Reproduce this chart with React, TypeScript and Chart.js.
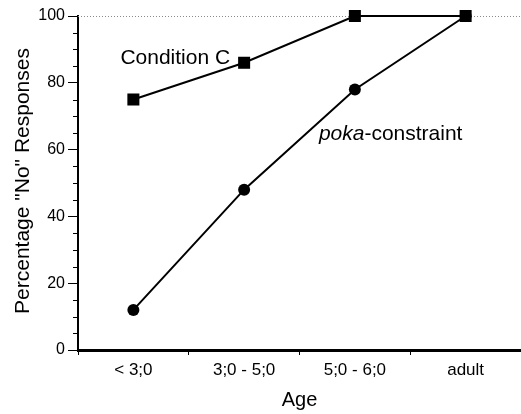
import React, { useEffect, useRef } from "react";
import { Chart, registerables } from "chart.js";

Chart.register(...registerables);

const ageGroups = ["< 3;0", "3;0 - 5;0", "5;0 - 6;0", "adult"];
const conditionC = [75, 86, 100, 100];
const pokaConstraint = [12, 48, 78, 100];
const yTickValues = [0, 20, 40, 60, 80, 100];
const minorTickValues = [5, 10, 15, 25, 30, 35, 45, 50, 55, 65, 70, 75, 85, 90, 95];

const FONT = '"Liberation Sans", Arial, Helvetica, sans-serif';

const decorPlugin = {
  id: "decor",
  beforeDatasetsDraw(chart: any) {
    const { ctx, chartArea } = chart;
    const y = chart.scales.y;
    ctx.save();
    // dotted reference line at 100
    ctx.strokeStyle = "#8a8a8a";
    ctx.lineWidth = 1;
    ctx.setLineDash([1, 2]);
    const py = Math.round(y.getPixelForValue(100)) + 0.5;
    ctx.beginPath();
    ctx.moveTo(chartArea.left, py);
    ctx.lineTo(chartArea.right, py);
    ctx.stroke();
    ctx.setLineDash([]);
    // minor ticks on y axis
    ctx.strokeStyle = "#000";
    ctx.lineWidth = 1;
    for (const v of minorTickValues) {
      const p = Math.round(y.getPixelForValue(v)) + 0.5;
      ctx.beginPath();
      ctx.moveTo(chartArea.left - 5, p);
      ctx.lineTo(chartArea.left, p);
      ctx.stroke();
    }
    ctx.restore();
  },
  afterDraw(chart: any) {
    const { ctx, chartArea } = chart;
    const x = chart.scales.x;
    const y = chart.scales.y;
    ctx.save();
    ctx.fillStyle = "#000";
    // Condition C label
    ctx.font = `21px ${FONT}`;
    ctx.textAlign = "right";
    ctx.textBaseline = "alphabetic";
    ctx.fillText("Condition C", x.getPixelForValue(1) - 14, y.getPixelForValue(85.5));
    // poka-constraint label
    ctx.textAlign = "left";
    let lx = x.getPixelForValue(2) - 36;
    const ly = y.getPixelForValue(63);
    ctx.font = `italic 21px ${FONT}`;
    ctx.fillText("poka", lx, ly);
    lx += ctx.measureText("poka").width;
    ctx.font = `21px ${FONT}`;
    ctx.fillText("-constraint", lx, ly);
    // x axis title
    ctx.textAlign = "center";
    ctx.font = `20px ${FONT}`;
    ctx.fillText("Age", (chartArea.left + chartArea.right) / 2, 406);
    // y axis title
    ctx.translate(29, (chartArea.top + chartArea.bottom) / 2 - 2);
    ctx.rotate(-Math.PI / 2);
    ctx.textAlign = "center";
    ctx.textBaseline = "alphabetic";
    ctx.font = `21px ${FONT}`;
    ctx.fillText('Percentage "No" Responses', 0, 0);
    ctx.restore();
  },
};

export default function App() {
  const ref = useRef<HTMLCanvasElement | null>(null);
  useEffect(() => {
    document.body.style.margin = "0";
    const canvas = ref.current;
    if (!canvas) return;
    const chart = new Chart(canvas, {
      type: "line",
      data: {
        labels: ageGroups,
        datasets: [
          {
            label: "Condition C",
            data: conditionC,
            borderColor: "#000",
            backgroundColor: "#000",
            borderWidth: 2,
            pointStyle: "rect",
            pointRadius: 8.5,
            pointBorderWidth: 0,
            pointBackgroundColor: "#000",
            clip: false,
          } as any,
          {
            label: "poka-constraint",
            data: pokaConstraint,
            borderColor: "#000",
            backgroundColor: "#000",
            borderWidth: 2,
            pointStyle: "circle",
            pointRadius: 6,
            pointBorderWidth: 0,
            pointBackgroundColor: "#000",
            clip: false,
          } as any,
        ],
      },
      options: {
        animation: false,
        responsive: false,
        devicePixelRatio: 1,
        layout: { autoPadding: false, padding: { top: 16, right: 0, left: 0, bottom: 0 } },
        plugins: {
          legend: { display: false },
          tooltip: { enabled: false },
        },
        scales: {
          x: {
            type: "category",
            offset: true,
            grid: {
              offset: true,
              drawOnChartArea: false,
              drawTicks: true,
              tickLength: 5,
              tickColor: "#000",
              lineWidth: 1,
            },
            border: { display: true, color: "#000", width: 3 },
            ticks: {
              color: "#000",
              font: { family: FONT, size: 17 },
              padding: 5,
              maxRotation: 0,
            },
            afterFit(scale: any) {
              scale.height = 64;
              scale.paddingLeft = 0;
              scale.paddingRight = 0;
            },
          },
          y: {
            min: 0,
            max: 100,
            afterBuildTicks(scale: any) {
              scale.ticks = yTickValues.map((v) => ({ value: v }));
            },
            grid: {
              drawOnChartArea: false,
              drawTicks: true,
              tickLength: 10,
              tickColor: "#000",
              lineWidth: 1,
            },
            border: { display: true, color: "#000", width: 2 },
            ticks: {
              color: "#000",
              font: { family: FONT, size: 16 },
              padding: 3,
            },
            afterFit(scale: any) {
              scale.width = 78;
              scale.paddingTop = 0;
              scale.paddingBottom = 0;
            },
          },
        },
      },
      plugins: [decorPlugin],
    });
    return () => chart.destroy();
  }, []);
  return (
    <canvas
      ref={ref}
      width={521}
      height={414}
      style={{ display: "block", width: 521, height: 414 }}
    />
  );
}
